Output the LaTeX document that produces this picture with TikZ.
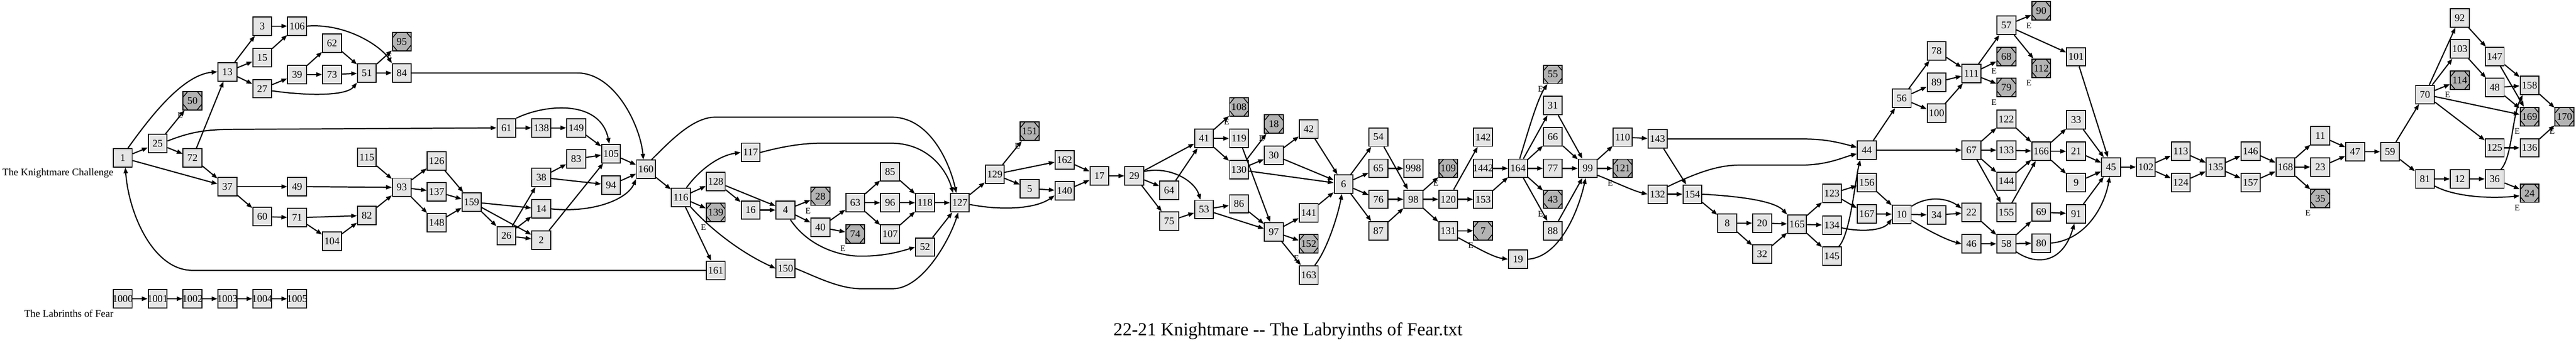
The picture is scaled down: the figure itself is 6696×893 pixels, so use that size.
\documentclass[tikz,border=0pt]{standalone}
\usepackage{fontspec}
\setmainfont{Liberation Serif}
\usetikzlibrary{arrows.meta}
\definecolor{nfill}{RGB}{229,229,229}
\definecolor{efill}{RGB}{179,179,179}
\newcommand\mkn[3]{\node[nbox] (n#1) at ({319+90.67*#2},#3) {\makebox[0pt]{#1}};}
\newcommand\mke[3]{\node[endbox] (n#1) at ({319+90.67*#2},#3) {\makebox[0pt]{#1}};\node[elab] (e#1) at ({319+90.67*#2-32},{#3+38}) {E};}
\tikzset{
 nbox/.style={draw=black, line width=2.6pt, fill=nfill, minimum width=49pt, minimum height=48pt, inner sep=0pt, font=\fontsize{26.5}{30}\selectfont},
 endbox/.style={nbox, fill=efill, path picture={\draw[line width=2pt]
   ([xshift=12.5pt]path picture bounding box.north west) -- ([yshift=-15pt]path picture bounding box.north west)
   ([yshift=15pt]path picture bounding box.south west) -- ([xshift=12.5pt]path picture bounding box.south west)
   ([xshift=-12.5pt]path picture bounding box.north east) -- ([yshift=-15pt]path picture bounding box.north east)
   ([yshift=15pt]path picture bounding box.south east) -- ([xshift=-12.5pt]path picture bounding box.south east);}},
 elab/.style={font=\fontsize{22}{26}\selectfont, inner sep=0pt},
 lab/.style={font=\fontsize{26.5}{30}\selectfont, inner sep=0pt},
 edge/.style={line width=3pt, -{Triangle[length=15pt,width=11pt]}},
}
\begin{document}
\begin{tikzpicture}[x=1pt,y=-1pt]
\useasboundingbox (0,0) rectangle (6696,893);
\fill[white] (0,0) rectangle (6696,893);
% labels
\node[lab, anchor=base east] (lk) at (295,458) {The Knightmare Challenge};
\node[lab, anchor=base east] (ll) at (295,825) {The Labrinths of Fear};
\node[font=\fontsize{47.7}{52}\selectfont, inner sep=0pt, anchor=base] (title) at (3348,874) {22-21 Knightmare -\kern0pt- The Labryinths of Fear.txt};
% nodes
\mkn{1}{0}{411} \mkn{1000}{0}{778}
\mkn{25}{1}{374} \mkn{1001}{1}{778}
\mke{50}{2}{262} \mkn{72}{2}{411} \mkn{1002}{2}{778}
\mkn{13}{3}{187} \mkn{37}{3}{486} \mkn{1003}{3}{778}
\mkn{3}{4}{68} \mkn{15}{4}{150} \mkn{27}{4}{231} \mkn{60}{4}{564} \mkn{1004}{4}{778}
\mkn{106}{5}{68} \mkn{39}{5}{194} \mkn{49}{5}{486} \mkn{71}{5}{567} \mkn{1005}{5}{778}
\mkn{62}{6}{112} \mkn{73}{6}{194} \mkn{104}{6}{628}
\mkn{51}{7}{190} \mkn{115}{7}{410} \mkn{82}{7}{561}
\mke{95}{8}{108} \mkn{84}{8}{190} \mkn{93}{8}{488}
\mkn{126}{9}{419} \mkn{137}{9}{499} \mkn{148}{9}{580}
\mkn{159}{10}{526}
\mkn{61}{11}{333} \mkn{26}{11}{614}
\mkn{138}{12}{333} \mkn{38}{12}{462} \mkn{14}{12}{544} \mkn{2}{12}{625}
\mkn{149}{13}{333} \mkn{83}{13}{414}
\mkn{105}{14}{400} \mkn{94}{14}{482}
\mkn{160}{15}{441}
\mkn{116}{16}{514}
\mkn{128}{17}{473} \mke{139}{17}{553.5} \mkn{161}{17}{704}
\mkn{117}{18}{397} \mkn{16}{18}{547}
\mkn{4}{19}{547} \mkn{150}{19}{699}
\mke{28}{20}{511} \mkn{40}{20}{592}
\mkn{63}{21}{528} \mke{74}{21}{609}
\mkn{85}{22}{447} \mkn{96}{22}{528} \mkn{107}{22}{609}
\mkn{118}{23}{528} \mkn{52}{23}{643.5}
\mkn{127}{24}{528}
\mkn{129}{25}{454}
\mke{151}{26}{342} \mkn{5}{26}{491}
\mkn{162}{27}{417} \mkn{140}{27}{497}
\mkn{17}{28}{458}
\mkn{29}{29}{458}
\mkn{64}{30}{495} \mkn{75}{30}{576}
\mkn{41}{31}{360.5} \mkn{53}{31}{545.6}
\mke{108}{32}{279} \mkn{119}{32}{360.5} \mkn{130}{32}{442} \mkn{86}{32}{531}
\mke{18}{33}{323} \mkn{30}{33}{404} \mkn{97}{33}{603.6}
\mkn{42}{34}{336} \mkn{141}{34}{554} \mke{152}{34}{635} \mkn{163}{34}{716}
\mkn{6}{35}{479.5}
\mkn{54}{36}{357} \mkn{65}{36}{438.5} \mkn{76}{36}{519} \mkn{87}{36}{601}
\mkn{998}{37}{438.5} \mkn{98}{37}{519}
\mke{109}{38}{438.5} \mkn{120}{38}{519} \mkn{131}{38}{601}
\mkn{142}{39}{357} \mkn{1442}{39}{438.5} \mkn{153}{39}{519} \mke{7}{39}{601}
\mkn{164}{40}{438.5} \mkn{19}{40}{675}
\mke{55}{41}{193.6} \mkn{31}{41}{275} \mkn{66}{41}{356.5} \mkn{77}{41}{438.5} \mke{43}{41}{519} \mkn{88}{41}{601}
\mkn{99}{42}{438.5}
\mkn{110}{43}{357} \mke{121}{43}{438.5}
\mkn{143}{44}{362} \mkn{132}{44}{505.7}
\mkn{154}{45}{505.7}
\mkn{8}{46}{581}
\mkn{20}{47}{581} \mkn{32}{47}{662}
\mkn{165}{48}{584}
\mkn{123}{49}{504} \mkn{134}{49}{586.6} \mkn{145}{49}{667.4}
\mkn{44}{50}{391} \mkn{156}{50}{475.5} \mkn{167}{50}{557}
\mkn{56}{51}{256} \mkn{10}{51}{558}
\mkn{78}{52}{132.7} \mkn{89}{52}{214} \mkn{100}{52}{295} \mkn{34}{52}{560}
\mkn{111}{53}{192} \mkn{67}{53}{391} \mkn{22}{53}{553.5} \mkn{46}{53}{635}
\mkn{57}{54}{66} \mke{68}{54}{147.5} \mke{79}{54}{228} \mkn{122}{54}{310} \mkn{133}{54}{391} \mkn{144}{54}{472} \mkn{155}{54}{553.5} \mkn{58}{54}{635}
\mke{90}{55}{28.5} \mke{112}{55}{177.7} \mkn{166}{55}{394} \mkn{69}{55}{552.4} \mkn{80}{55}{633}
\mkn{101}{56}{148} \mkn{33}{56}{312} \mkn{21}{56}{394} \mkn{9}{56}{475.5} \mkn{91}{56}{557}
\mkn{45}{57}{435}
\mkn{102}{58}{435}
\mkn{113}{59}{394} \mkn{124}{59}{475.5}
\mkn{135}{60}{435}
\mkn{146}{61}{394} \mkn{157}{61}{475.5}
\mkn{168}{62}{435}
\mkn{11}{63}{354} \mkn{23}{63}{435} \mke{35}{63}{516.5}
\mkn{47}{64}{395}
\mkn{59}{65}{395}
\mkn{70}{66}{246} \mkn{81}{66}{466}
\mkn{92}{67}{46.7} \mkn{103}{67}{127.6} \mke{114}{67}{209} \mkn{12}{67}{466}
\mkn{147}{68}{147} \mkn{48}{68}{228} \mkn{125}{68}{385} \mkn{36}{68}{466}
\mkn{158}{69}{222} \mke{169}{69}{303.5} \mkn{136}{69}{385} \mke{24}{69}{503}
\mke{170}{70}{303.5}
% straight edges
\foreach \a/\b in {1/25, 1/37, 25/50, 25/72, 72/13, 72/37,
13/3, 13/15, 13/27, 3/106, 15/106, 27/39, 39/62, 39/73, 62/51, 73/51, 51/95, 51/84,
37/49, 37/60, 49/93, 60/71, 71/82, 71/104, 104/82, 82/93, 115/93, 93/126, 93/137, 93/148,
126/159, 137/159, 148/159, 159/14, 159/2, 159/26, 26/38, 26/14, 26/2, 38/83, 38/94, 83/105, 2/105, 61/138, 138/149, 149/105, 105/160, 94/160,
160/116, 116/128, 116/139, 116/161,
128/4, 128/16, 16/4, 4/28, 4/40, 40/63, 40/74,
63/85, 63/96, 63/107, 85/118, 96/118, 107/118, 118/127, 52/127,
127/129, 129/151, 129/162, 129/5, 5/140, 162/17, 140/17,
17/29, 29/41, 29/64, 29/75, 64/41, 75/53, 41/108, 41/119, 41/130, 119/97, 130/18, 130/30, 130/6, 53/86, 53/97, 86/97, 30/42, 30/6, 97/141, 97/152, 97/163,
42/6, 141/6,
6/54, 6/65, 6/76, 6/87, 54/98, 65/998, 76/98, 87/98,
98/109, 98/120, 98/131, 120/142, 120/153, 131/7, 1442/164, 153/164,
164/31, 164/66, 164/77, 164/43, 164/88,
31/99, 66/99, 77/99, 88/99,
99/110, 99/121, 110/143, 143/154, 132/154, 154/8,
8/20, 8/32, 20/165, 32/165,
165/123, 165/134, 165/145, 123/156, 123/167, 156/10, 167/10,
44/56, 44/67, 56/78, 56/89, 56/100, 78/111, 89/111, 100/111,
10/34, 34/22,
111/57, 111/68, 111/79, 57/90, 57/112, 57/101, 101/45,
67/122, 67/133, 67/144, 67/155, 122/166, 133/166, 144/166, 155/166,
166/33, 166/21, 166/9, 33/45, 21/45, 9/45,
22/58, 46/58, 58/69, 58/80, 69/91, 91/45,
45/102, 102/113, 102/124, 113/135, 124/135, 135/146, 135/157, 146/168, 157/168, 168/11, 168/23, 168/35, 11/47, 23/47, 47/59,
59/70, 59/81, 70/92, 70/103, 70/114, 70/169, 70/125, 92/147, 103/48, 147/158, 147/169, 48/158, 48/169, 125/136, 81/12, 12/36, 36/24, 158/170, 136/170,
1000/1001, 1001/1002, 1002/1003, 1003/1004, 1004/1005}
  \draw[edge] (n\a) -- (n\b);
% curved edges
\draw[edge] (n1.62) .. controls (380,320) and (470,195) .. (n13.west);
\draw[edge] (n25.15) .. controls (480,350) and (520,337) .. (600,337) -- (n61.west);
\draw[edge] (n106.east) .. controls (900,60) and (990,120) .. (n84.north west);
\draw[edge] (n27.-12) .. controls (800,250) and (900,250) .. (n51.south west);
\draw[edge] (n84.east) -- (1500,190) .. controls (1600,190) and (1665,330) .. (n160.105);
\draw[edge] (n61.north east) .. controls (1420,270) and (1560,260) .. (n105.100);
\draw[edge] (n14.east) .. controls (1540,555) and (1630,520) .. (n160.south west);
\draw[edge] (n160.60) .. controls (1740,370) and (1800,305) .. (1860,305) -- (2317,305) .. controls (2420,305) and (2470,430) .. (n127.110);
\draw[edge] (n116.60) .. controls (1820,440) and (1870,405) .. (n117.west);
\draw[edge] (n117.east) .. controls (2040,380) and (2090,373) .. (2133,373) -- (2317,373) .. controls (2410,373) and (2460,440) .. (n127.125);
\draw[edge] (n116.south east) .. controls (1850,600) and (1930,660) .. (n150.west);
\draw[edge] (n161.west) -- (500,704) .. controls (400,704) and (335,560) .. (n1.-75);
\draw[edge] (n4.-63) .. controls (2100,640) and (2180,668) .. (2240,667) .. controls (2300,667) and (2340,655) .. (n52.west);
\draw[edge] (n150.east) .. controls (2120,720) and (2180,752) .. (2240,752) -- (2320,752) .. controls (2400,752) and (2470,620) .. (n127.-100);
\draw[edge] (n127.-10) .. controls (2600,548) and (2690,545) .. (n140.-155);
\draw[edge] (n29.24) .. controls (3040,432) and (3105,470) .. (n53.110);
\draw[edge] (n163.58) .. controls (3450,650) and (3478,560) .. (n6.-100);
\draw[edge] (n131.-35) .. controls (3830,640) and (3880,670) .. (n19.west);
\draw[edge] (n19.east) .. controls (4050,670) and (4100,560) .. (n99.-102);
\draw[edge] (n164.80) .. controls (3970,350) and (3995,260) .. (n55.-119);
\draw[edge] (n99.-35) .. controls (4200,475) and (4245,497) .. (n132.west);
\draw[edge] (n143.east) -- (4690,362) .. controls (4750,362) and (4790,374) .. (n44.164);
\draw[edge] (n132.37) .. controls (4400,455) and (4460,430) .. (4520,430) -- (4680,430) .. controls (4750,430) and (4790,410) .. (n44.-160);
\draw[edge] (n154.east) .. controls (4500,510) and (4610,520) .. (n165.north west);
\draw[edge] (n134.-15) .. controls (4840,605) and (4895,600) .. (n10.-155);
\draw[edge] (n145.55) .. controls (4810,610) and (4822,470) .. (n44.-124);
\draw[edge] (n10.39) .. controls (5010,510) and (5060,515) .. (n22.157);
\draw[edge] (n10.-31) .. controls (5010,600) and (5060,625) .. (n46.west);
\draw[edge] (n58.-39) .. controls (5290,690) and (5360,690) .. (n91.-100);
\draw[edge] (n80.east) .. controls (5420,625) and (5470,540) .. (n45.-98);
\draw[edge] (n81.-36) .. controls (6380,512) and (6470,518) .. (n24.-165);
\draw[edge] (n36.57) .. controls (6530,410) and (6530,300) .. (n158.-125);
\end{tikzpicture}
\end{document}
